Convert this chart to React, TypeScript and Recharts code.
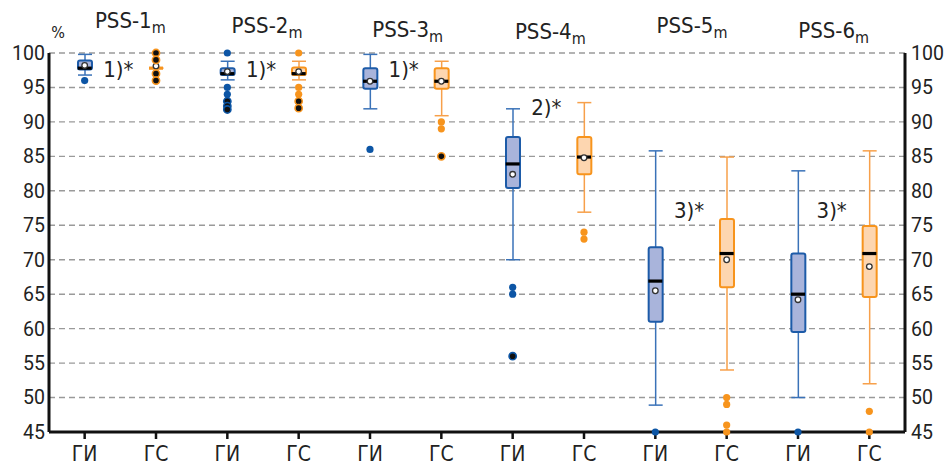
import React from 'react';
import {
  ComposedChart,
  Bar,
  Line,
  XAxis,
  YAxis,
  CartesianGrid,
} from 'recharts';

// box plot values, one entry per category (ГИ / ГС for each PSS group)
const groups = ['PSS-1', 'PSS-2', 'PSS-3', 'PSS-4', 'PSS-5', 'PSS-6'];
const kinds = ['ГИ', 'ГС'];

const whiskerLow = [96.8, 97.8, 96.1, 96.1, 91.9, 90.9, 70, 76.9, 48.9, 54, 50, 52];
const q1 = [97.6, 97.8, 96.8, 96.8, 94.8, 94.8, 80.4, 82.4, 61, 66, 59.5, 64.6];
const medians = [97.8, 97.8, 97.0, 97.0, 95.9, 95.9, 83.9, 84.9, 66.9, 70.9, 65, 70.9];
const q3 = [98.9, 97.8, 97.8, 97.9, 97.8, 97.8, 87.8, 87.8, 71.8, 75.9, 70.9, 74.9];
const whiskerHigh = [99.8, 97.8, 98.8, 98.8, 99.8, 98.8, 91.9, 92.8, 85.8, 84.9, 82.9, 85.8];
const means = [98.2, 98.1, 97.3, 97.3, 95.9, 95.9, 82.4, 84.8, 65.5, 70.0, 64.2, 69.0];

const outliers = [
  [96],
  [100, 99, 97, 96],
  [100, 95, 94, 93, 92.3, 91.8],
  [100, 95, 94, 93, 92],
  [86],
  [90, 89, 85],
  [66, 65, 56],
  [74, 73],
  [45],
  [50, 49, 46, 45],
  [45],
  [48, 45],
];
// overlapping outliers drawn with a dark centre
const darkOutliers = [
  [],
  [100, 99, 97, 96],
  [93, 92.3, 91.8],
  [93, 92],
  [],
  [85],
  [56],
  [],
  [],
  [],
  [],
  [],
];

const notes = ['1)*', '1)*', '1)*', '2)*', '3)*', '3)*'];
const noteLevels = [97.5, 97.5, 97.5, 92, 77.1, 77.1];

const yTicks = [45, 50, 55, 60, 65, 70, 75, 80, 85, 90, 95, 100];

const MAX_OUT = 6;

const data = groups.flatMap((g, gi) =>
  kinds.map((k, ki) => {
    const i = gi * 2 + ki;
    const row: any = {
      key: `${k}-${gi + 1}`,
      kind: ki,
      lo: whiskerLow[i],
      q1: q1[i],
      median: medians[i],
      q3: q3[i],
      hi: whiskerHigh[i],
      mean: means[i],
      note: ki === 0 ? noteLevels[gi] : null,
      dark: darkOutliers[i],
    };
    for (let j = 0; j < MAX_OUT; j++) {
      row[`o${j}`] = outliers[i][j] ?? null;
    }
    return row;
  })
);

const W = 944;
const H = 466;
const PLOT_LEFT = 49;
const PLOT_RIGHT = 905;
const HALF_BAND = (PLOT_RIGHT - PLOT_LEFT) / data.length / 2;
const FONT = 'Roboto, "Noto Sans", sans-serif';
const NARROW = '"Liberation Sans Narrow", "DejaVu Sans Condensed", Roboto, sans-serif';

const BLUE = '#1d5ba8';
const BLUE_WHISKER = '#3a72b8';
const BLUE_FILL = '#a9b4db';
const ORANGE = '#f7941d';
const ORANGE_WHISKER = '#f7a04a';
const ORANGE_FILL = '#fdd6b0';

const titleBaselines = [28, 33, 37, 39, 33, 38];
const titleNudge = [10, 4, 2, 2, 1, 0];

const TitleTick = (props: any) => {
  const { x, index } = props;
  if (index % 2 !== 0) return <g />;
  const g = index / 2;
  return (
    <g>
      <text
        x={x + HALF_BAND + titleNudge[g]}
        y={titleBaselines[g]}
        textAnchor="middle"
        fontSize={22}
        fontFamily={NARROW}
        fill="#222"
      >
        {groups[g]}
        <tspan fontSize={16} dy={5}>
          m
        </tspan>
      </text>
      {index === 0 && (
        <text x={58} y={38} textAnchor="middle" fontSize={16} fontFamily={NARROW} fill="#222">
          %
        </text>
      )}
    </g>
  );
};

const WhiskerShape = (props: any) => {
  const { x, y, width, height, payload } = props;
  if (x == null || y == null) return <g />;
  const color = payload.kind === 0 ? BLUE_WHISKER : ORANGE_WHISKER;
  const cx = x + width / 2;
  return (
    <g>
      <line x1={cx} x2={cx} y1={y} y2={y + height} stroke={color} strokeWidth={1.5} />
      <line x1={x} x2={x + width} y1={y} y2={y} stroke={color} strokeWidth={1.5} />
      <line x1={x} x2={x + width} y1={y + height} y2={y + height} stroke={color} strokeWidth={1.5} />
    </g>
  );
};

const BoxShape = (props: any) => {
  const { x, y, width, height, payload } = props;
  if (x == null || y == null || !height) return <g />;
  const blue = payload.kind === 0;
  return (
    <rect
      x={x}
      y={y}
      width={width}
      height={height}
      rx={2}
      fill={blue ? BLUE_FILL : ORANGE_FILL}
      stroke={blue ? BLUE : ORANGE}
      strokeWidth={2}
    />
  );
};

const MedianDot = (props: any) => {
  const { cx, cy, payload, index } = props;
  if (cx == null || cy == null) return <g key={`md${index}`} />;
  const flat = payload.q1 === payload.q3;
  return (
    <rect
      key={`md${index}`}
      x={cx - 7}
      y={cy - 1.6}
      width={14}
      height={3.2}
      fill={flat ? ORANGE : '#000'}
    />
  );
};

const MeanDot = (props: any) => {
  const { cx, cy, index } = props;
  if (cx == null || cy == null) return <g key={`mn${index}`} />;
  return (
    <circle key={`mn${index}`} cx={cx} cy={cy} r={2.8} fill="#fff" stroke="#333" strokeWidth={1.3} />
  );
};

const makeOutlierDot = (j: number) => (props: any) => {
  const { cx, cy, payload, index } = props;
  const v = payload[`o${j}`];
  if (v == null || cx == null || cy == null || isNaN(cy)) return <g key={`o${j}-${index}`} />;
  const blue = payload.kind === 0;
  const isDark = payload.dark.includes(v);
  return (
    <circle
      key={`o${j}-${index}`}
      cx={cx}
      cy={cy}
      r={3.6}
      fill={isDark ? '#111' : blue ? '#0c55a5' : ORANGE}
      stroke={blue ? '#0c55a5' : ORANGE}
      strokeWidth={isDark ? 1.6 : 0}
    />
  );
};

const NoteDot = (props: any) => {
  const { cx, cy, payload, index } = props;
  if (payload.note == null || cx == null || cy == null) return <g key={`n${index}`} />;
  const g = Math.floor(index / 2);
  return (
    <text
      key={`n${index}`}
      x={cx + HALF_BAND - 2}
      y={cy}
      dy={7}
      textAnchor="middle"
      fontSize={22}
      fontFamily={NARROW}
      fill="#222"
    >
      {notes[g]}
    </text>
  );
};

export default function App() {
  const tickStyle = { fontSize: 19.5, fill: '#222', fontFamily: FONT };
  return (
    <div style={{ position: 'absolute', left: 0, top: 0, width: W, height: H, background: '#fff' }}>
      <ComposedChart
        width={W}
        height={H}
        data={data}
        margin={{ top: 8, right: 0, bottom: 0, left: 4 }}
      >
        <CartesianGrid
          xAxisId="main"
          yAxisId="left"
          vertical={false}
          stroke="#9a9a9a"
          strokeWidth={1.4}
          strokeDasharray="6 4"
        />
        <XAxis
          xAxisId="top"
          dataKey="key"
          orientation="top"
          height={45}
          axisLine={false}
          tickLine={false}
          interval={0}
          tick={<TitleTick />}
        />
        <XAxis
          xAxisId="main"
          dataKey="key"
          height={34}
          interval={0}
          axisLine={{ stroke: '#111', strokeWidth: 3 }}
          tickLine={{ stroke: '#111', strokeWidth: 2.5 }}
          tickSize={7}
          tickMargin={7}
          tick={{ fontSize: 21, fill: '#222', fontFamily: NARROW }}
          tickFormatter={(_v: string, i: number) => kinds[i % 2]}
        />
        <XAxis xAxisId="w" dataKey="key" hide height={0} />
        <XAxis xAxisId="b" dataKey="key" hide height={0} />
        <YAxis
          yAxisId="left"
          domain={[45, 100]}
          ticks={yTicks}
          interval={0}
          width={45}
          axisLine={{ stroke: '#111', strokeWidth: 3 }}
          tickLine={false}
          tickSize={0}
          tickMargin={4}
          tick={tickStyle}
        />
        <YAxis
          yAxisId="right"
          orientation="right"
          domain={[45, 100]}
          ticks={yTicks}
          interval={0}
          width={39}
          axisLine={{ stroke: '#111', strokeWidth: 3 }}
          tickLine={false}
          tickSize={0}
          tickMargin={6}
          tick={tickStyle}
        />
        <Line
          xAxisId="main"
          yAxisId="right"
          dataKey="mean"
          stroke="none"
          dot={false}
          activeDot={false}
          isAnimationActive={false}
        />
        <Bar
          xAxisId="w"
          yAxisId="left"
          dataKey={(d: any) => [d.lo, d.hi]}
          barSize={14}
          shape={<WhiskerShape />}
          isAnimationActive={false}
        />
        <Bar
          xAxisId="b"
          yAxisId="left"
          dataKey={(d: any) => [d.q1, d.q3]}
          barSize={14}
          shape={<BoxShape />}
          isAnimationActive={false}
        />
        <Line
          xAxisId="main"
          yAxisId="left"
          dataKey="median"
          stroke="none"
          dot={MedianDot}
          activeDot={false}
          isAnimationActive={false}
        />
        <Line
          xAxisId="main"
          yAxisId="left"
          dataKey="mean"
          stroke="none"
          dot={MeanDot}
          activeDot={false}
          isAnimationActive={false}
        />
        {Array.from({ length: MAX_OUT }, (_, j) => (
          <Line
            key={`o${j}`}
            xAxisId="main"
            yAxisId="left"
            dataKey={`o${j}`}
            stroke="none"
            dot={makeOutlierDot(j)}
            activeDot={false}
            isAnimationActive={false}
          />
        ))}
        <Line
          xAxisId="main"
          yAxisId="left"
          dataKey="note"
          stroke="none"
          dot={NoteDot}
          activeDot={false}
          isAnimationActive={false}
        />
      </ComposedChart>
    </div>
  );
}
